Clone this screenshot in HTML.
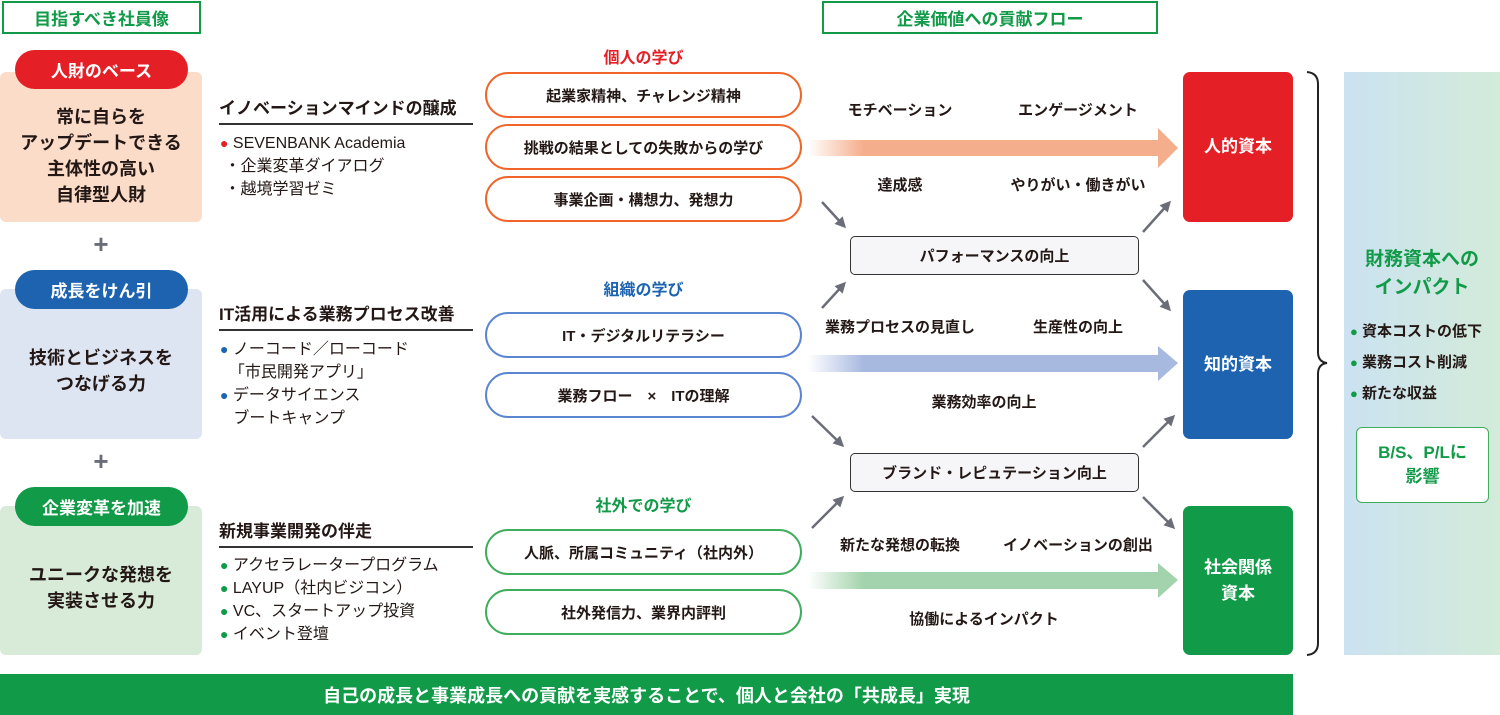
<!DOCTYPE html>
<html><head><meta charset="utf-8"><style>
*{margin:0;padding:0;box-sizing:border-box}
body{width:1500px;height:715px;background:#fff;position:relative;overflow:hidden;font-family:"Liberation Sans","Noto Sans CJK JP",sans-serif;color:#231815}
.a{position:absolute}
.c{display:flex;align-items:center;justify-content:center;text-align:center}
.hdr{border:2px solid #119a48;color:#119a48;font-size:17px;font-weight:bold}
.pill{border-radius:20px;color:#fff;font-size:17px;font-weight:bold}
.card{border-radius:6px;font-size:18px;font-weight:bold;line-height:26px}
.plus{font-size:26px;color:#6b6e78;font-weight:bold;width:30px;text-align:center}
.h{font-size:17px;font-weight:bold;left:219px;width:254px;border-bottom:2px solid #333;padding-bottom:4px}
.li{font-size:16px;left:220px;line-height:23px}
.li span{font-size:14px}
.lp{left:485px;width:317px;height:46px;border-radius:23px;border:2px solid;font-size:15px;font-weight:bold;background:#fff}
.o{border-color:#f0662a}.b{border-color:#5b85d0}.g{border-color:#3fad5c}
.lt{left:485px;width:317px;font-size:16px;font-weight:bold;text-align:center}
.lab{font-size:15px;font-weight:bold;width:200px;text-align:center}
.mid{left:850px;width:289px;height:39px;border:1.5px solid #333;border-radius:5px;background:#f6f6f8;font-size:15px;font-weight:bold}
.cap{left:1183px;width:110px;border-radius:7px;color:#fff;font-size:17px;font-weight:bold;line-height:26px}
</style></head><body>
<div class="a c hdr" style="left:2px;top:1px;width:199px;height:33px">目指すべき社員像</div>
<div class="a c hdr" style="left:822px;top:1px;width:336px;height:33px">企業価値への貢献フロー</div>

<div class="a c card" style="left:0;top:72px;width:202px;height:150px;background:#fbdcc8;padding-top:18px">常に自らを<br>アップデートできる<br>主体性の高い<br>自律型人財</div>
<div class="a c pill" style="left:15px;top:50px;width:173px;height:39px;background:#e41f26">人財のベース</div>
<div class="a plus" style="left:86px;top:229px">+</div>
<div class="a c card" style="left:0;top:289px;width:202px;height:150px;background:#dde4f2;padding-top:14px">技術とビジネスを<br>つなげる力</div>
<div class="a c pill" style="left:15px;top:270px;width:173px;height:39px;background:#1d63b0">成長をけん引</div>
<div class="a plus" style="left:86px;top:446px">+</div>
<div class="a c card" style="left:0;top:506px;width:202px;height:149px;background:#d8ebd9;padding-top:14px">ユニークな発想を<br>実装させる力</div>
<div class="a c pill" style="left:15px;top:487px;width:173px;height:39px;background:#119a48">企業変革を加速</div>

<div class="a h" style="top:94px">イノベーションマインドの醸成</div>
<div class="a li" style="top:132px"><span style="color:#e41f26">●</span> SEVENBANK Academia<br>&nbsp;・企業変革ダイアログ<br>&nbsp;・越境学習ゼミ</div>
<div class="a h" style="top:300px">IT活用による業務プロセス改善</div>
<div class="a li" style="top:338px"><span style="color:#1d63b0">●</span> ノーコード／ローコード<br>&nbsp;&nbsp;「市民開発アプリ」<br><span style="color:#1d63b0">●</span> データサイエンス<br>&nbsp;&nbsp;&nbsp;ブートキャンプ</div>
<div class="a h" style="top:517px">新規事業開発の伴走</div>
<div class="a li" style="top:554px"><span style="color:#119a48">●</span> アクセラレータープログラム<br><span style="color:#119a48">●</span> LAYUP（社内ビジコン）<br><span style="color:#119a48">●</span> VC、スタートアップ投資<br><span style="color:#119a48">●</span> イベント登壇</div>

<div class="a lt" style="top:44px;color:#e41f26">個人の学び</div>
<div class="a c lp o" style="top:72px">起業家精神、チャレンジ精神</div>
<div class="a c lp o" style="top:124px">挑戦の結果としての失敗からの学び</div>
<div class="a c lp o" style="top:176px">事業企画・構想力、発想力</div>
<div class="a lt" style="top:276px;color:#1d63b0">組織の学び</div>
<div class="a c lp b" style="top:312px">IT・デジタルリテラシー</div>
<div class="a c lp b" style="top:372px">業務フロー　×　ITの理解</div>
<div class="a lt" style="top:492px;color:#119a48">社外での学び</div>
<div class="a c lp g" style="top:529px">人脈、所属コミュニティ（社内外）</div>
<div class="a c lp g" style="top:589px">社外発信力、業界内評判</div>

<svg class="a" style="left:0;top:0" width="1500" height="715">
<defs>
<linearGradient id="go" x1="0" x2="1"><stop offset="0" stop-color="#f5ae8c" stop-opacity="0"/><stop offset="0.15" stop-color="#f5ae8c"/><stop offset="1" stop-color="#f5ae8c"/></linearGradient>
<linearGradient id="gb" x1="0" x2="1"><stop offset="0" stop-color="#a8b9e0" stop-opacity="0"/><stop offset="0.15" stop-color="#a8b9e0"/><stop offset="1" stop-color="#a8b9e0"/></linearGradient>
<linearGradient id="gg" x1="0" x2="1"><stop offset="0" stop-color="#a3d3ac" stop-opacity="0"/><stop offset="0.15" stop-color="#a3d3ac"/><stop offset="1" stop-color="#a3d3ac"/></linearGradient>
<linearGradient id="gp" x1="0" x2="1"><stop offset="0" stop-color="#cbe2f1"/><stop offset="1" stop-color="#d3ebd9"/></linearGradient>
<marker id="m" markerWidth="11" markerHeight="11" refX="8" refY="5.5" orient="auto" markerUnits="userSpaceOnUse"><path d="M0,0 L11,5.5 L0,11 z" fill="#6b6e78"/></marker>
</defs>
<path d="M808,140 H1158 V128 L1178,148 L1158,168 V156 H808 z" fill="url(#go)"/>
<path d="M808,355 H1158 V346 L1178,363 L1158,381 V372 H808 z" fill="url(#gb)"/>
<path d="M808,572 H1158 V563 L1178,580 L1158,598 V589 H808 z" fill="url(#gg)"/>
<g stroke="#6b6e78" stroke-width="2.5" fill="none">
<path d="M822,202 L844,226" marker-end="url(#m)"/>
<path d="M822,308 L844,284" marker-end="url(#m)"/>
<path d="M1143,232 L1169,203" marker-end="url(#m)"/>
<path d="M1143,280 L1169,309" marker-end="url(#m)"/>
<path d="M812,416 L842,445" marker-end="url(#m)"/>
<path d="M812,528 L842,498" marker-end="url(#m)"/>
<path d="M1143,447 L1173,417" marker-end="url(#m)"/>
<path d="M1143,497 L1173,527" marker-end="url(#m)"/>
</g>
<path d="M1307,72 Q1318,73 1318,84 V352 Q1318,362 1327,363 Q1318,364 1318,374 V643 Q1318,654 1307,655" stroke="#222" stroke-width="2" fill="none"/>
<rect x="1344" y="72" width="156" height="583" fill="url(#gp)"/>
</svg>

<div class="a lab" style="left:800px;top:99px">モチベーション</div>
<div class="a lab" style="left:978px;top:99px">エンゲージメント</div>
<div class="a lab" style="left:800px;top:174px">達成感</div>
<div class="a lab" style="left:978px;top:174px">やりがい・働きがい</div>
<div class="a c mid" style="top:236px">パフォーマンスの向上</div>
<div class="a lab" style="left:800px;top:316px">業務プロセスの見直し</div>
<div class="a lab" style="left:978px;top:316px">生産性の向上</div>
<div class="a lab" style="left:884px;top:391px">業務効率の向上</div>
<div class="a c mid" style="top:453px">ブランド・レピュテーション向上</div>
<div class="a lab" style="left:800px;top:534px">新たな発想の転換</div>
<div class="a lab" style="left:978px;top:534px">イノベーションの創出</div>
<div class="a lab" style="left:884px;top:608px">協働によるインパクト</div>

<div class="a c cap" style="top:72px;height:150px;background:#e41f26">人的資本</div>
<div class="a c cap" style="top:290px;height:149px;background:#1d63b0">知的資本</div>
<div class="a c cap" style="top:506px;height:149px;background:#119a48">社会関係<br>資本</div>

<div class="a" style="left:1344px;top:246px;width:156px;text-align:center;color:#119a48;font-size:19px;font-weight:bold;line-height:28px">財務資本への<br>インパクト</div>
<div class="a" style="left:1350px;top:316px;font-size:15px;font-weight:bold;line-height:31px"><span style="color:#119a48;font-size:13px">●</span> 資本コストの低下<br><span style="color:#119a48;font-size:13px">●</span> 業務コスト削減<br><span style="color:#119a48;font-size:13px">●</span> 新たな収益</div>
<div class="a c" style="left:1356px;top:427px;width:133px;height:76px;border:1.5px solid #3fad5c;border-radius:6px;background:#fff;color:#119a48;font-size:17px;font-weight:bold;line-height:24px">B/S、P/Lに<br>影響</div>

<div class="a c" style="left:0;top:674px;width:1293px;height:41px;background:#119a48;color:#fff;font-size:18px;font-weight:bold">自己の成長と事業成長への貢献を実感することで、個人と会社の「共成長」実現</div>
</body></html>
